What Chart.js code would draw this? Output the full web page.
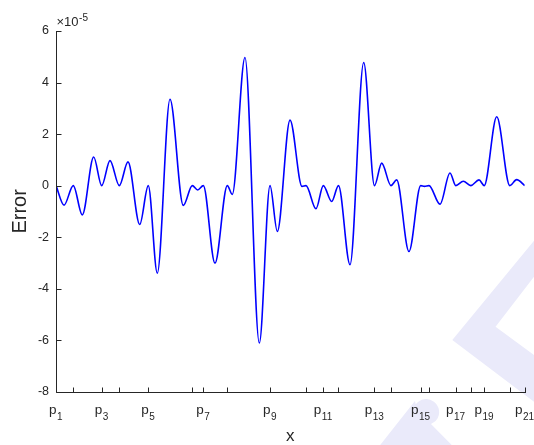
<!DOCTYPE html>
<html>
<head>
<meta charset="utf-8">
<script src="https://cdn.jsdelivr.net/npm/chart.js@4/dist/chart.umd.min.js"></script>
<style>
html,body{margin:0;padding:0;background:#fff;}
#wrap{width:534px;height:445px;position:relative;}
</style>
</head>
<body>
<div id="wrap"><canvas id="c" width="534" height="445"></canvas></div>
<script>
// ---- data (x normalised to [p1, p21] = [0, 1]; error in units of 1e-5) ----
const nodeNames = ['p1','p2','p3','p4','p5','p6','p7','p8','p9','p10','p11','p12','p13','p14','p15','p16','p17','p18','p19','p20','p21'];
const nodeX = [0, 0.0369, 0.0975, 0.1351, 0.1969, 0.2908, 0.3143, 0.3655, 0.4566, 0.5334, 0.5703,
               0.6027, 0.6795, 0.7147, 0.7781, 0.7958, 0.8530, 0.8850, 0.9136, 0.9682, 1];
const curveX = [0, 0.0171, 0.0369, 0.0561, 0.0804, 0.0975, 0.1152, 0.1351, 0.1536, 0.1786, 0.1969,
                0.2161, 0.2432, 0.2716, 0.2908, 0.3023, 0.3143, 0.3392, 0.3655, 0.3761, 0.4032,
                0.4338, 0.4566, 0.4722, 0.4993, 0.5249, 0.5334, 0.5547, 0.5703, 0.5882, 0.6027,
                0.6273, 0.6565, 0.6795, 0.6949, 0.7147, 0.7269, 0.7531, 0.7781, 0.7862, 0.7958,
                0.8193, 0.8406, 0.8530, 0.8690, 0.8850, 0.9025, 0.9136, 0.9403, 0.9682, 0.9829, 1];
const errorScaled = [0, -0.76, 0, -1.14, 1.11, 0, 0.97, 0, 0.92, -1.51, 0,
                     -3.40, 3.35, -0.77, 0, -0.17, 0, -3.01, 0, -0.34, 4.97,
                     -6.11, 0, -1.78, 2.54, -0.03, 0, -0.90, 0, -0.62, 0,
                     -3.07, 4.78, 0, 0.87, 0, 0.22, -2.56, 0, -0.03, 0,
                     -0.72, 0.49, 0, 0.17, 0, 0.22, 0, 2.67, 0, 0.23, 0];
const yTicks = [-8, -6, -4, -2, 0, 2, 4, 6];
const yExponent = '-5';
const xTitle = 'x';
const yTitle = 'Error';

// ---- styling ----
const FONT = "'Liberation Sans', Arial, Helvetica, sans-serif";
const AXIS_COLOR = '#262626';
const TICK_LEN = 5;

const points = curveX.map((x, i) => ({x: x, y: errorScaled[i]}));

const watermark = {
  id: 'watermark',
  beforeDraw(chart) {
    const ctx = chart.ctx;
    const W = chart.width, H = chart.height;
    ctx.save();
    ctx.fillStyle = '#EAEAFA';
    // chevron on the right edge
    ctx.beginPath();
    ctx.moveTo(W, H * 0.541);
    ctx.lineTo(W * 0.847, H * 0.764);
    ctx.lineTo(W, H * 0.903);
    ctx.lineTo(W, H * 0.798);
    ctx.lineTo(W * 0.928, H * 0.734);
    ctx.lineTo(W, H * 0.622);
    ctx.closePath();
    ctx.fill();
    // stroke with rounded head at the bottom
    ctx.beginPath();
    ctx.moveTo(W * 0.712, H);
    ctx.lineTo(W * 0.777, H * 0.901);
    ctx.arc(W * 0.798, H * 0.926, 13, -2.5, 0.75);
    ctx.lineTo(W * 0.807, H * 0.953);
    ctx.lineTo(W * 0.846, H);
    ctx.closePath();
    ctx.fill();
    ctx.restore();
  }
};

const axesDecor = {
  id: 'axesDecor',
  afterDraw(chart) {
    const {ctx, chartArea: a, scales: {x, y}} = chart;
    ctx.save();
    ctx.strokeStyle = AXIS_COLOR;
    ctx.lineWidth = 1;
    ctx.beginPath();
    const lx = Math.round(a.left) + 0.5;
    const by = Math.round(a.bottom) + 0.5;
    ctx.moveTo(lx, Math.round(a.top));
    ctx.lineTo(lx, by);
    ctx.lineTo(Math.round(a.right) + 1, by);
    yTicks.forEach(v => {
      const py = Math.round(y.getPixelForValue(v)) + 0.5;
      ctx.moveTo(lx, py);
      ctx.lineTo(lx + TICK_LEN, py);
    });
    nodeX.forEach(v => {
      const px = Math.round(x.getPixelForValue(v)) + 0.5;
      ctx.moveTo(px, by);
      ctx.lineTo(px, by - TICK_LEN);
    });
    ctx.stroke();

    // x tick labels p with subscripts (odd nodes)
    ctx.fillStyle = AXIS_COLOR;
    ctx.textBaseline = 'alphabetic';
    ctx.textAlign = 'left';
    const mainFont = '13.5px ' + FONT;
    const subFont = '10px ' + FONT;
    nodeNames.forEach((name, i) => {
      if (i % 2 !== 0) return;
      const base = name.charAt(0);
      const sub = name.slice(1);
      ctx.font = mainFont;
      const w1 = ctx.measureText(base).width;
      ctx.font = subFont;
      const w2 = ctx.measureText(sub).width;
      const cx = x.getPixelForValue(nodeX[i]) - 0.5;
      const sx = cx - (w1 + w2) / 2;
      ctx.font = mainFont;
      ctx.fillText(base, sx, a.bottom + 22.5);
      ctx.font = subFont;
      ctx.fillText(sub, sx + w1 + 0.5, a.bottom + 28.5);
    });

    // exponent label
    ctx.font = '13px ' + FONT;
    const ex = a.left + 0.5;
    const ey = a.top - 5.5;
    ctx.fillText('\u00d710', ex, ey);
    const wEx = ctx.measureText('\u00d710').width;
    ctx.font = '10px ' + FONT;
    ctx.fillText(yExponent, ex + wEx + 0.5, ey - 5);
    ctx.restore();
  }
};

new Chart(document.getElementById('c'), {
  type: 'line',
  data: {
    datasets: [{
      data: points,
      borderColor: '#0000FF',
      borderWidth: 1.6,
      pointRadius: 0,
      fill: false,
      cubicInterpolationMode: 'monotone'
    }]
  },
  options: {
    responsive: false,
    animation: false,
    devicePixelRatio: 1,
    layout: {padding: {left: 0, top: 31, right: 9.3, bottom: 0}},
    plugins: {legend: {display: false}, tooltip: {enabled: false}},
    scales: {
      x: {
        type: 'linear',
        min: 0,
        max: 1,
        grid: {display: false, drawTicks: false},
        border: {display: false},
        ticks: {display: false},
        title: {display: true, text: xTitle, color: AXIS_COLOR,
                font: {family: FONT, size: 17}, padding: {top: 0, bottom: -2}},
        afterFit(s) { s.height = 53.3; }
      },
      y: {
        type: 'linear',
        min: -8,
        max: 6,
        afterBuildTicks(s) { s.ticks = yTicks.map(v => ({value: v})); },
        grid: {display: false, drawTicks: false},
        border: {display: false},
        ticks: {color: AXIS_COLOR, font: {family: FONT, size: 12.5}, padding: 7},
        title: {display: true, text: yTitle, color: AXIS_COLOR,
                font: {family: FONT, size: 20}, padding: {top: 8, bottom: 0}},
        afterFit(s) { s.width = 56; }
      }
    }
  },
  plugins: [watermark, axesDecor]
});
</script>
</body>
</html>
